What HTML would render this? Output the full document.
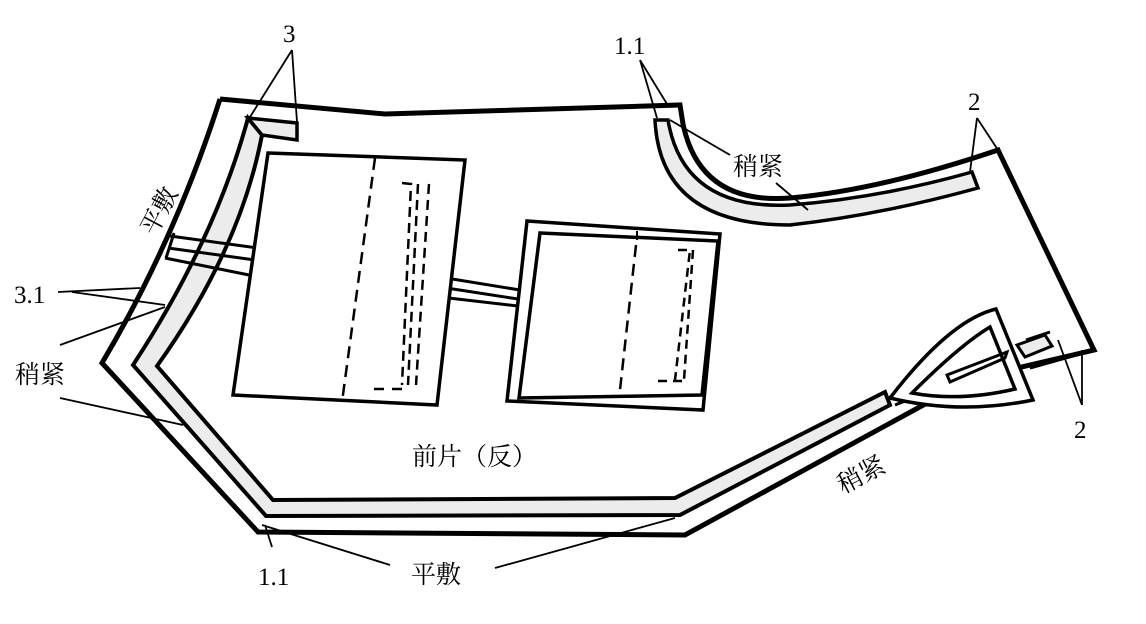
<!DOCTYPE html>
<html><head><meta charset="utf-8"><style>
html,body{margin:0;padding:0;background:#fff}
svg{display:block}
text{font-family:"Liberation Serif","Noto Serif CJK SC",serif;fill:#000}
</style></head><body>
<svg width="1146" height="624" viewBox="0 0 1146 624" xmlns="http://www.w3.org/2000/svg">
<g fill="none" stroke="#000" stroke-linejoin="miter">
<path d="M220,99 L385,114 L680,105 L683,124 Q700,205 790,198 Q880,190 998,150 L1094,350 L1000,372 M960,385 L685,535 L258,532 L102,363 Q175,240 220,99" stroke-width="5"/>
<path d="M248,118 Q215,240 133,365 L266,516 L680,515 L890,405 L885,392 L675,498 L273,500 L157,366 Q240,250 262,135 Z" fill="#ececec" stroke-width="4"/>
<path d="M248,118 L297,123 L297,140 L262,135 Z" fill="#ececec" stroke-width="3.5"/>
<path d="M655,120 L668,120 Q683,210 790,205 Q880,198 972,172 L978,188 Q880,215 790,225 Q660,225 655,120 Z" fill="#ececec" stroke-width="3.5"/>
<path d="M170,236 L258,248 M168,248 L255,260 M174,233 Q170,246 166,258 M165,258 L254,276" stroke-width="3"/>
<path d="M440,277 L520,290 M440,287 L518,299 M440,297 L518,306" stroke-width="3"/>
<path d="M268,153 L465,160 L437,405 L233,395 Z" fill="#fff" stroke-width="3.5"/>
<path d="M375,158 L342,402" stroke-width="2.5" stroke-dasharray="12,7"/>
<path d="M402,183 L411,184 L402,385 M418,184 L408,385 M429,184 L416,385 M374,389 L386,389 M392,389 L406,389" stroke-width="2.5" stroke-dasharray="10,6"/>
<path d="M527,221 L720,234 L703,410 L507,401 Z" fill="#fff" stroke-width="3.5"/>
<path d="M540,233 L718,241 L702,395 L519,398 Z" stroke-width="3.5"/>
<path d="M637,231 L637,240" stroke-width="2"/>
<path d="M636,245 L620,390" stroke-width="2.5" stroke-dasharray="12,7"/>
<path d="M678,250 L690,250 L675,380 M693,250 L684,380 M658,381 L682,381" stroke-width="2.5" stroke-dasharray="9,6"/>
<path d="M1017,345 L1045,335 L1052,346 L1025,357 Z" fill="#ececec" stroke-width="3"/>
<path d="M895,405 L958,380" stroke-width="3"/>
<path d="M890,398 Q950,320 996,309 L1033,400 Q960,415 890,398 Z" fill="#fff" stroke-width="3.5"/>
<path d="M912,393 Q960,345 990,327 L1015,389 Q960,402 912,393 Z" stroke-width="3.5"/>
<path d="M947,375 L1007,352 L1005,358 L950,382 Z" stroke-width="3"/>
<path d="M1026,340 L1050,332 M1030,368 L1094,350" stroke-width="3"/>
</g>
<g stroke="#000" stroke-width="1.8" fill="none">
<path d="M292,50 L250,117 M292,50 L297,122"/>
<path d="M640,60 L657,118 M640,60 L667,104"/>
<path d="M670,120 L730,155 M776,183 L808,210"/>
<path d="M977,118 L970,172 M977,118 L998,150"/>
<path d="M1082,405 L1082,350 M1082,405 L1058,340"/>
<path d="M58,292 L140,288 M72,292 L165,305"/>
<path d="M60,345 L165,307"/>
<path d="M60,398 L183,425"/>
<path d="M272,547 L265,525 M262,525 L390,565"/>
<path d="M495,568 L675,518"/>
</g>
<g font-size="25">
<text x="283" y="42">3</text>
<text x="614" y="54">1.1</text>
<text x="968" y="110">2</text>
<text x="1074" y="438">2</text>
<text x="14" y="303">3.1</text>
<text x="258" y="585">1.1</text>
<text x="733" y="175">稍紧</text>
<text x="15" y="383">稍紧</text>
<text x="412" y="465">前片（反）</text>
<text x="411" y="583">平敷</text>
<text transform="translate(843,494) rotate(-28)">稍紧</text>
<text transform="translate(155,237) rotate(-62)">平敷</text>
</g>
</svg>
</body></html>
